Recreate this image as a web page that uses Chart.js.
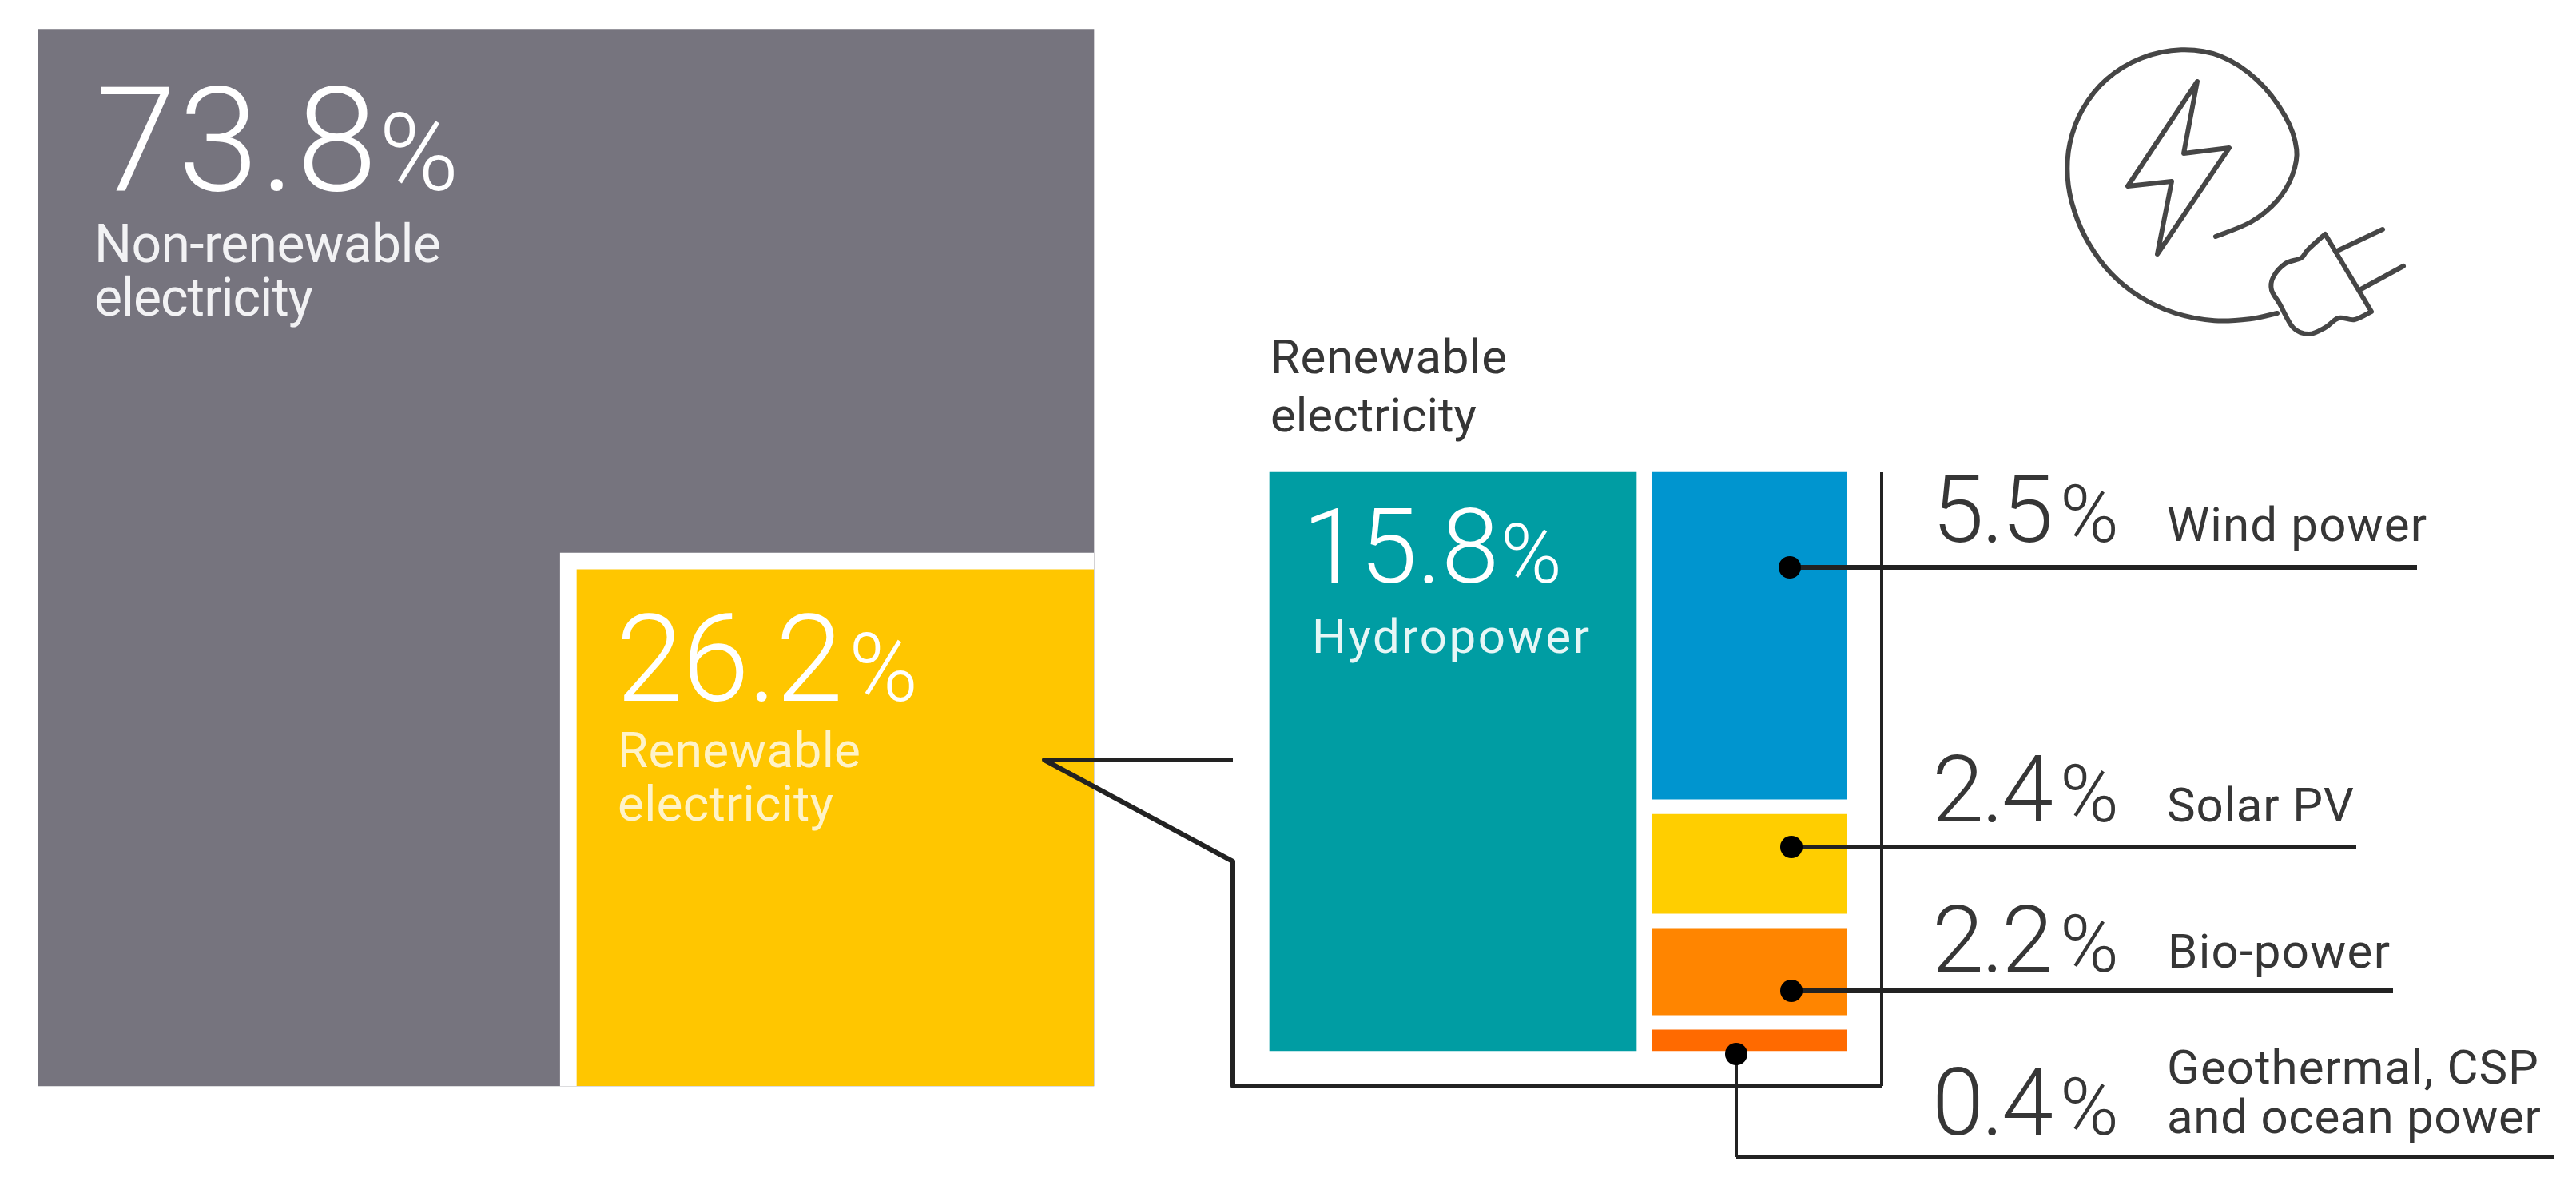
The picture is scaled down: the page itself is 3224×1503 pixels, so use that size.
<!DOCTYPE html>
<html>
<head>
<meta charset="utf-8">
<title>Renewable electricity share</title>
<script src="https://cdn.jsdelivr.net/npm/chart.js"></script>
<style>
  html, body { margin: 0; padding: 0; background: #fff; }
  canvas { display: block; }
</style>
</head>
<body>
<canvas id="electricityChart" width="3224" height="1503"></canvas>
<script>
// Values
const categories = ['Non-renewable electricity', 'Renewable electricity', 'Hydropower', 'Wind power', 'Solar PV', 'Bio-power', 'Geothermal, CSP and ocean power'];
// percentages printed on the chart
const shares = [73.8, 26.2, 15.8, 5.5, 2.4, 2.2, 0.4];
// bar lengths, on an axis where the hydropower bar is 15.8 long
// (the source graphic is not drawn to scale, so these differ from the printed shares)
const barLengths = [28.86, 14.56, 15.8, 8.93, 2.71, 2.36, 0.57];

// Layout of the graphic, in page pixels
const pxPerUnit = 724 / 15.8;
const leftZeroPx = 1359;
const stackZeroPx = 1315;
const stackGap = 0.41;
const colors = ['#76747e', '#ffc600', '#009da3', '#0095cf', '#ffce00', '#ff8500', '#ff6a00'];
const barLeft = [48, 701, 1589, 2068, 2068, 2068, 2068];
const barWidth = [1321, 668, 459, 243, 243, 243, 243];

// Wind, solar, bio and geothermal hang below each other from the top of the hydropower bar
function barRange(i) {
  if (i <= 2) return [0, barLengths[i]];
  let hi = barLengths[2];
  for (let k = 3; k < i; k++) hi -= barLengths[k] + stackGap;
  return [hi - barLengths[i], hi];
}

function axisRange(zeroPx) {
  return { min: -(1503 - zeroPx) / pxPerUnit, max: zeroPx / pxPerUnit };
}

const datasets = categories.map((name, i) => ({
  label: name,
  data: [{ x: barLeft[i] + barWidth[i] / 2, y: barRange(i) }],
  backgroundColor: colors[i],
  barThickness: barWidth[i],
  grouped: false,
  yAxisID: i < 2 ? 'yLeft' : 'yStack',
  order: i === 0 ? 2 : 1,
  // white frame between the yellow square and the grey one
  borderColor: '#fff',
  borderSkipped: false,
  borderWidth: i === 1 ? { left: 21, top: 21, right: 0, bottom: 0 } : 0,
}));

const WHITE = '#fff';
const DARK = '#363636';
const FONT = 'Roboto';

// big number, its % sign, and the caption lines
const percentLabels = [
  { i: 0, x: 120, y: 238, size: 182, width: 352, pctSize: 136, pctX: 474, color: WHITE },
  { i: 1, x: 771, y: 877, size: 152, width: 284, pctSize: 118, pctX: 1062, color: WHITE },
  { i: 2, x: 1630, y: 729, size: 130, width: 246, pctSize: 104, pctX: 1878, color: WHITE },
  { i: 3, x: 2418, y: 678, size: 117, width: 152, pctSize: 100, pctX: 2578, color: DARK },
  { i: 4, x: 2418, y: 1028, size: 117, width: 152, pctSize: 100, pctX: 2578, color: DARK },
  { i: 5, x: 2418, y: 1216, size: 117, width: 152, pctSize: 100, pctX: 2578, color: DARK },
  { i: 6, x: 2418, y: 1420, size: 117, width: 152, pctSize: 100, pctX: 2578, color: DARK },
];
const captions = [
  { text: 'Non-renewable', x: 118, y: 328, size: 66, width: 434, color: '#f2f2f4' },
  { text: 'electricity', x: 118, y: 395, size: 66, width: 274, color: '#f2f2f4' },
  { text: 'Renewable', x: 773, y: 960, size: 62, width: 304, color: '#fff3c8' },
  { text: 'electricity', x: 773, y: 1027, size: 62, width: 270, color: '#fff3c8' },
  { text: 'Renewable', x: 1590, y: 467, size: 60, width: 296, color: DARK },
  { text: 'electricity', x: 1590, y: 540, size: 60, width: 258, color: DARK },
  { text: 'Hydropower', x: 1642, y: 817, size: 60, width: 347, color: '#e6f6f6' },
  { text: 'Wind power', x: 2712, y: 677, size: 60, width: 325, color: DARK },
  { text: 'Solar PV', x: 2712, y: 1028, size: 60, width: 234, color: DARK },
  { text: 'Bio-power', x: 2713, y: 1211, size: 60, width: 278, color: DARK },
  { text: 'Geothermal, CSP', x: 2712, y: 1356, size: 60, width: 465, color: DARK },
  { text: 'and ocean power', x: 2712, y: 1418, size: 60, width: 468, color: DARK },
];

// leader lines and their dots
const leaders = [
  { w: 6, pts: [[1543, 951], [1307, 951], [1543, 1078], [1543, 1359], [2355, 1359]] },
  { w: 4, pts: [[2355, 1359], [2355, 591]] },
  { w: 6, pts: [[2240, 710], [3025, 710]] },
  { w: 6, pts: [[2242, 1060], [2949, 1060]] },
  { w: 6, pts: [[2242, 1240], [2995, 1240]] },
  { w: 4, pts: [[2173, 1319], [2173, 1448]] },
  { w: 6, pts: [[2173, 1448], [3197, 1448]] },
];
const dots = [[2240, 710], [2242, 1060], [2242, 1240], [2173, 1319]];

// plug icon outline, page pixels
const iconCord = [[2773, 296], [2823, 280], [2853, 253], [2872, 217], [2879, 190], [2867, 150], [2827, 92], [2777, 65], [2733, 58], [2677, 68], [2633, 97], [2603, 135], [2587, 180], [2585, 223], [2594, 265], [2612, 305], [2640, 345], [2675, 372], [2720, 395], [2773, 405], [2820, 400], [2850, 392]];
const iconBolt = [[2750, 102], [2663, 233], [2718, 227], [2700, 318], [2790, 185], [2733, 192]];
const iconPlug = [[2910, 293], [2888, 313], [2880, 323], [2860, 330], [2845, 347], [2843, 363], [2853, 380], [2870, 410], [2890, 418], [2910, 410], [2927, 398], [2947, 400], [2968, 390]];
const iconPins = [[[2923, 315], [2982, 287]], [[2953, 363], [3008, 333]]];

// one pass of neighbour averaging, the hand-read points are a bit lumpy
function relax(pts) {
  return pts.map((p, i) => {
    if (i === 0 || i === pts.length - 1) return p;
    const a = pts[i - 1];
    const b = pts[i + 1];
    return [(a[0] + 2 * p[0] + b[0]) / 4, (a[1] + 2 * p[1] + b[1]) / 4];
  });
}

// Catmull-Rom through the points, so the cord comes out without kinks
function curveThrough(ctx, pts) {
  ctx.moveTo(pts[0][0], pts[0][1]);
  for (let i = 0; i < pts.length - 1; i++) {
    const p0 = pts[Math.max(i - 1, 0)];
    const p1 = pts[i];
    const p2 = pts[i + 1];
    const p3 = pts[Math.min(i + 2, pts.length - 1)];
    ctx.bezierCurveTo(
      p1[0] + (p2[0] - p0[0]) / 6, p1[1] + (p2[1] - p0[1]) / 6,
      p2[0] - (p3[0] - p1[0]) / 6, p2[1] - (p3[1] - p1[1]) / 6,
      p2[0], p2[1]
    );
  }
}

function drawIcon(ctx) {
  ctx.save();
  ctx.strokeStyle = '#464646';
  ctx.lineWidth = 6;
  ctx.lineJoin = 'round';
  ctx.lineCap = 'round';

  ctx.beginPath();
  curveThrough(ctx, relax(iconCord));
  ctx.stroke();

  ctx.beginPath();
  iconBolt.forEach((p, i) => (i ? ctx.lineTo(p[0], p[1]) : ctx.moveTo(p[0], p[1])));
  ctx.closePath();
  ctx.stroke();

  ctx.beginPath();
  curveThrough(ctx, iconPlug);
  ctx.closePath();
  ctx.stroke();

  iconPins.forEach(pin => {
    ctx.beginPath();
    ctx.moveTo(pin[0][0], pin[0][1]);
    ctx.lineTo(pin[1][0], pin[1][1]);
    ctx.stroke();
  });
  ctx.restore();
}

// draws text stretched or squeezed to the width it has in the reference
function fitText(ctx, text, x, y, width) {
  ctx.letterSpacing = '0px';
  const natural = ctx.measureText(text).width;
  ctx.letterSpacing = ((width - natural) / Math.max(text.length - 1, 1)).toFixed(2) + 'px';
  ctx.fillText(text, x, y);
  ctx.letterSpacing = '0px';
}

const annotations = {
  id: 'annotations',
  afterDatasetsDraw(chart) {
    const ctx = chart.ctx;
    ctx.save();

    // leaders
    ctx.strokeStyle = '#222';
    ctx.lineJoin = 'round';
    leaders.forEach(l => {
      ctx.lineWidth = l.w;
      ctx.beginPath();
      l.pts.forEach((p, i) => (i ? ctx.lineTo(p[0], p[1]) : ctx.moveTo(p[0], p[1])));
      ctx.stroke();
    });
    ctx.fillStyle = '#000';
    dots.forEach(d => {
      ctx.beginPath();
      ctx.arc(d[0], d[1], 14, 0, Math.PI * 2);
      ctx.fill();
    });

    // text
    ctx.textAlign = 'left';
    ctx.textBaseline = 'alphabetic';
    percentLabels.forEach(l => {
      ctx.fillStyle = l.color;
      ctx.font = `300 ${l.size}px ${FONT}`;
      fitText(ctx, shares[l.i].toFixed(1), l.x, l.y, l.width);
      ctx.font = `300 ${l.pctSize}px ${FONT}`;
      ctx.fillText('%', l.pctX, l.y);
    });
    captions.forEach(c => {
      ctx.fillStyle = c.color;
      ctx.font = `400 ${c.size}px ${FONT}`;
      fitText(ctx, c.text, c.x, c.y, c.width);
    });
    ctx.restore();

    drawIcon(ctx);
  }
};

new Chart(document.getElementById('electricityChart'), {
  type: 'bar',
  data: { datasets },
  plugins: [annotations],
  options: {
    responsive: false,
    animation: false,
    layout: { padding: 0 },
    plugins: {
      legend: { display: false },
      tooltip: { enabled: false }
    },
    scales: {
      x: { type: 'linear', display: false, offset: false, min: 0, max: 3224 },
      yLeft: { type: 'linear', display: false, ...axisRange(leftZeroPx) },
      yStack: { type: 'linear', display: false, ...axisRange(stackZeroPx) }
    }
  }
});
</script>
</body>
</html>
